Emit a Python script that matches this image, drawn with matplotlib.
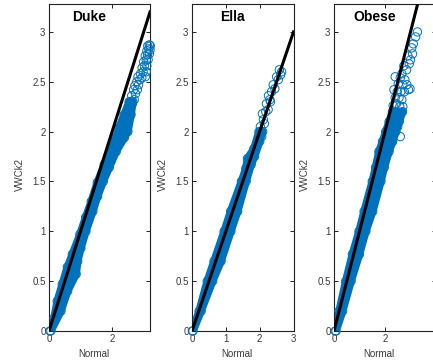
import matplotlib
matplotlib.use("Agg")
import matplotlib.pyplot as plt

plt.rcParams["font.family"] = ["Liberation Sans", "DejaVu Sans"]

blue = "#0072BD"

# dense body of each cloud: edge points (Normal, VWCk2) of the point centres, left and right side
duke_left_y  = [0.00, 0.13, 0.30, 0.47, 0.64, 0.77, 0.97, 1.14, 1.30, 1.49, 1.67, 1.80, 1.94, 2.04, 2.17, 2.30]
duke_left_x  = [0.03, 0.16, 0.26, 0.42, 0.58, 0.74, 0.98, 1.16, 1.34, 1.53, 1.75, 1.94, 2.12, 2.22, 2.38, 2.54]
duke_right_y = [0.00, 0.20, 0.40, 0.57, 0.70, 0.83, 1.00, 1.20, 1.35, 1.50, 1.64, 1.80, 1.94, 2.00, 2.17, 2.30]
duke_right_x = [0.06, 0.38, 0.59, 0.86, 0.91, 1.01, 1.17, 1.39, 1.54, 1.72, 1.91, 2.13, 2.39, 2.50, 2.60, 2.66]
# loose points at the top
duke_top_x = [2.56, 2.64, 2.70, 2.62, 2.74, 2.68, 2.80, 2.72, 2.84, 2.78, 2.88, 2.82, 2.94, 3.05, 2.90, 2.98,
              3.08, 2.95, 3.02, 3.10, 3.00, 3.08, 3.14, 3.05, 3.12, 3.18, 3.10, 3.16, 3.20, 3.13, 3.18, 3.21]
duke_top_y = [2.30, 2.28, 2.32, 2.36, 2.38, 2.42, 2.42, 2.46, 2.47, 2.50, 2.52, 2.55, 2.54, 2.55, 2.58, 2.60,
              2.60, 2.64, 2.66, 2.66, 2.70, 2.72, 2.72, 2.76, 2.77, 2.78, 2.81, 2.83, 2.82, 2.86, 2.87, 2.86]

ella_left_y  = [0.00, 0.20, 0.50, 0.70, 1.00, 1.20, 1.50, 1.63, 1.73, 1.83, 2.00]
ella_left_x  = [0.01, 0.21, 0.45, 0.65, 0.95, 1.14, 1.46, 1.59, 1.64, 1.83, 1.98]
ella_right_y = [0.00, 0.20, 0.50, 0.70, 1.00, 1.20, 1.50, 1.67, 1.75, 1.90, 2.00]
ella_right_x = [0.03, 0.27, 0.61, 0.86, 1.15, 1.35, 1.60, 1.75, 1.85, 2.00, 2.09]
ella_top_x = [2.06, 2.02, 2.11, 2.08, 2.14, 2.18, 2.25, 2.20, 2.30, 2.26, 2.35, 2.32, 2.45, 2.40,
              2.55, 2.50, 2.62, 2.65, 2.58]
ella_top_y = [1.95, 2.05, 2.12, 2.18, 2.08, 2.20, 2.22, 2.28, 2.32, 2.36, 2.40, 2.30, 2.43, 2.47,
              2.52, 2.55, 2.57, 2.60, 2.62]

obese_left_y  = [0.00, 0.20, 0.50, 0.77, 1.00, 1.20, 1.50, 1.64, 1.80, 1.90, 2.00, 2.10, 2.20]
obese_left_x  = [0.05, 0.20, 0.46, 0.72, 0.98, 1.18, 1.50, 1.63, 1.76, 1.90, 2.03, 2.16, 2.29]
obese_right_y = [0.00, 0.20, 0.50, 0.77, 1.00, 1.20, 1.50, 1.64, 1.80, 1.90, 2.00, 2.10, 2.20]
obese_right_x = [0.08, 0.34, 0.67, 1.00, 1.25, 1.52, 1.84, 1.97, 2.16, 2.30, 2.43, 2.56, 2.69]
obese_top_x = [2.60, 2.50, 2.32, 2.45, 2.58, 2.70, 2.40, 2.55, 2.66, 2.35, 2.48, 2.62, 2.76, 2.92, 2.98, 2.52,
               2.70, 2.86, 2.40, 2.60, 2.78, 2.66, 2.85, 2.74, 2.95, 3.00, 2.90, 3.08, 3.05, 3.11, 3.20, 3.27]
obese_top_y = [1.95, 2.05, 2.26, 2.28, 2.25, 2.25, 2.34, 2.34, 2.32, 2.42, 2.40, 2.40, 2.40, 2.42, 2.43, 2.48,
               2.47, 2.47, 2.55, 2.54, 2.52, 2.58, 2.62, 2.66, 2.68, 2.72, 2.76, 2.78, 2.84, 2.88, 2.95, 3.00]

panels = [
    ("Duke",  duke_left_x,  duke_left_y,  duke_right_x,  duke_right_y,  duke_top_x,  duke_top_y,  3.2, [0, 2],       49, 101),
    ("Ella",  ella_left_x,  ella_left_y,  ella_right_x,  ella_right_y,  ella_top_x,  ella_top_y,  3.0, [0, 1, 2, 3], 192, 101.5),
    ("Obese", obese_left_x, obese_left_y, obese_right_x, obese_right_y, obese_top_x, obese_top_y, 4.0, [0, 2, 4],    334, 102),
]
yticks = [0, 0.5, 1, 1.5, 2, 2.5, 3]
ylabels = ["0", "0.5", "1", "1.5", "2", "2.5", "3"]

W, H = 433, 364
fig = plt.figure(figsize=(W / 100, H / 100), dpi=100)

for name, lx, ly, rx, ry, tx, ty, xmax, xt, x0, w in panels:
    ax = fig.add_axes([x0 / W, (H - 331) / H, w / W, 327 / H])
    # body outline: left side going up, right side coming down
    ax.fill(lx + rx[::-1], ly + ry[::-1], color=blue, edgecolor=blue,
            linewidth=5.5, joinstyle="round")
    ax.scatter(lx + rx + tx, ly + ry + ty, s=36, facecolors="none",
               edgecolors=blue, linewidths=0.7, clip_on=False, zorder=3)
    ax.plot([0, xmax], [0, xmax], color="black", linewidth=2.2, zorder=4)
    ax.set_xlim(0, xmax)
    ax.set_ylim(0, 3.28)
    ax.set_xticks(xt)
    ax.set_xticklabels([str(v) for v in xt])
    ax.set_yticks(yticks)
    ax.set_yticklabels(ylabels)
    ax.tick_params(direction="in", length=3, width=0.6, top=True, right=True,
                   labelsize=7, labelcolor="#3a3a3a", pad=2.5)
    for s in ax.spines.values():
        s.set_linewidth(0.8)
        s.set_color("#222222")
    ax.text(0.40, 0.96, name, transform=ax.transAxes, ha="center", va="center",
            fontsize=10, fontweight="bold")
    ax.set_xlabel("Normal", fontsize=7, color="#3a3a3a")
    ax.xaxis.set_label_coords(0.44, -0.055)
    ax.set_ylabel("VWCk2", fontsize=7, color="#3a3a3a")
    ax.yaxis.set_label_coords(-0.24, 0.48)

fig.savefig("out.png", dpi=100)
